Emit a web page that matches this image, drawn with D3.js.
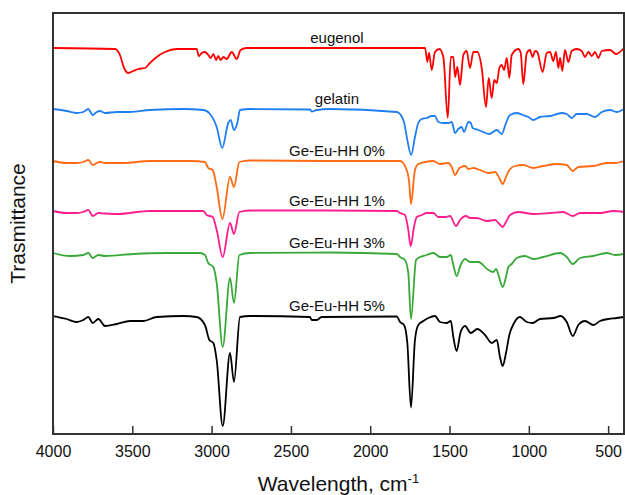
<!DOCTYPE html>
<html>
<head>
<meta charset="utf-8">
<script src="https://cdn.jsdelivr.net/npm/d3@7"></script>
<style>
  body { margin: 0; background: #fff; }
  svg { display: block; font-family: "Liberation Sans", Arial, sans-serif; }
</style>
</head>
<body>
<svg id="chart" width="625" height="495"></svg>
<script>
// wavenumber (cm-1) vs. transmittance, arbitrary offset units
const eugenol = [[4000,38.6],[3609,38.5],[3578,37.9],[3552,36.6],[3525,36.1],[3494,36.3],[3462,36.5],[3420,36.6],[3389,37.1],[3346,37.7],[3294,38.2],[3220,38.5],[3136,38.5],[3094,38.5],[3081,37.8],[3062,38.1],[3042,38.2],[3021,37.9],[3006,37.6],[2989,38.0],[2972,37.4],[2958,37.8],[2943,37.4],[2926,37.7],[2905,37.5],[2873,38.2],[2842,37.5],[2817,38.4],[2779,38.6],[1812,38.6],[1654,38.6],[1640,37.2],[1629,38.1],[1612,36.4],[1592,38.2],[1564,38.5],[1539,37.7],[1511,31.6],[1492,37.7],[1476,37.7],[1465,35.7],[1451,36.7],[1434,34.9],[1413,37.9],[1392,38.3],[1371,36.6],[1350,38.2],[1325,38.2],[1297,36.6],[1270,32.7],[1253,35.6],[1234,33.6],[1218,35.4],[1202,35.1],[1186,36.6],[1171,36.9],[1156,36.4],[1139,37.6],[1123,35.6],[1108,37.9],[1066,38.5],[1051,38.1],[1035,35.0],[1013,38.1],[993,38.4],[976,37.7],[961,38.3],[947,38.2],[913,36.2],[887,38.1],[866,38.2],[846,37.3],[829,38.2],[814,36.6],[803,37.6],[789,36.3],[772,38.4],[751,37.2],[730,38.3],[698,38.5],[667,38.3],[646,37.7],[625,38.2],[603,37.8],[583,38.2],[562,37.6],[540,38.3],[488,38.4],[450,38.0],[400,38.6]]

const gelatin = [[4000,32.5],[3914,32.3],[3851,32.1],[3809,32.2],[3777,32.5],[3750,31.9],[3724,32.2],[3704,32.3],[3672,32.1],[3598,32.2],[3515,32.2],[3388,32.4],[3178,32.5],[3052,32.4],[3010,32.0],[2968,30.7],[2933,28.6],[2895,31.1],[2880,31.4],[2859,30.4],[2838,31.1],[2821,32.4],[2758,32.5],[2380,32.45],[2369,32.25],[2337,32.4],[2254,32.5],[1833,32.2],[1812,32.0],[1787,31.2],[1766,29.4],[1742,27.9],[1718,29.7],[1697,31.1],[1675,31.5],[1644,31.6],[1612,31.8],[1592,31.8],[1571,31.2],[1539,31.1],[1508,31.1],[1486,31.2],[1465,30.1],[1445,30.5],[1423,30.7],[1409,30.2],[1381,31.2],[1366,31.1],[1354,30.6],[1318,30.4],[1287,30.2],[1249,30.0],[1202,30.4],[1171,30.0],[1144,31.1],[1119,31.9],[1076,32.1],[1039,31.9],[1003,31.7],[972,31.4],[930,31.7],[866,31.8],[793,32.1],[761,32.0],[730,31.6],[698,32.0],[635,32.0],[583,31.7],[540,32.2],[488,32.4],[446,32.2],[400,32.5]]

const geEu0 = [[4000,27.3],[3914,27.1],[3851,27.1],[3809,27.2],[3777,27.4],[3750,26.9],[3724,27.1],[3704,27.2],[3672,27.1],[3557,27.1],[3388,27.3],[3136,27.3],[3042,27.2],[3021,26.6],[2993,26.4],[2968,24.7],[2932,21.5],[2884,25.7],[2859,24.7],[2825,27.2],[2758,27.35],[2254,27.3],[1833,27.3],[1812,27.3],[1770,26.4],[1754,25.1],[1743,23.0],[1718,26.4],[1697,27.0],[1654,27.2],[1602,27.3],[1560,27.0],[1508,27.1],[1486,26.7],[1465,25.9],[1438,26.6],[1402,26.8],[1381,26.5],[1350,26.6],[1308,26.4],[1255,26.1],[1213,26.2],[1186,25.6],[1165,25.0],[1144,25.7],[1123,26.4],[1087,26.8],[1035,26.9],[972,26.6],[909,26.8],[824,27.0],[761,26.9],[723,26.3],[688,26.7],[593,26.8],[509,27.1],[457,27.1],[400,27.3]]

const geEu1 = [[4000,22.3],[3914,22.1],[3851,22.1],[3809,22.2],[3777,22.4],[3750,21.8],[3714,22.1],[3672,22.05],[3598,22.0],[3388,22.3],[3052,22.3],[3031,21.9],[2993,21.7],[2968,20.4],[2930,17.7],[2884,21.1],[2859,20.0],[2825,22.2],[2758,22.35],[2254,22.35],[1833,22.3],[1812,22.1],[1781,21.9],[1760,20.4],[1745,18.8],[1724,20.7],[1707,21.7],[1675,21.9],[1644,22.1],[1602,22.1],[1571,21.7],[1528,21.7],[1497,21.8],[1459,20.8],[1434,21.4],[1396,21.8],[1371,21.6],[1329,21.6],[1266,21.3],[1213,21.4],[1192,21.1],[1165,20.7],[1144,21.2],[1119,21.9],[1066,22.2],[972,22.0],[866,22.1],[783,22.2],[723,21.8],[677,22.1],[551,22.1],[467,22.3],[400,22.2]]

const geEu3 = [[4000,18.1],[3893,17.8],[3809,17.9],[3777,18.1],[3750,17.6],[3714,17.9],[3672,17.8],[3494,18.0],[3283,18.1],[3073,18.1],[3042,17.9],[3021,17.1],[2989,16.7],[2968,15.1],[2930,8.7],[2884,15.6],[2859,13.1],[2825,17.9],[2758,18.1],[2254,18.15],[1833,18.0],[1812,17.7],[1781,17.4],[1760,16.1],[1743,11.5],[1711,17.4],[1686,17.7],[1644,17.9],[1602,18.1],[1560,17.7],[1518,17.7],[1492,17.9],[1476,16.9],[1455,15.8],[1430,16.9],[1402,17.5],[1371,17.2],[1318,17.2],[1255,16.4],[1224,16.2],[1207,16.5],[1186,15.6],[1165,14.7],[1144,15.7],[1129,16.7],[1108,17.0],[1076,17.6],[1024,17.8],[972,17.5],[909,17.7],[803,18.1],[761,17.7],[723,17.0],[677,17.6],[593,17.8],[509,18.1],[457,17.9],[400,18.0]]

const geEu5 = [[4000,11.8],[3914,11.5],[3851,11.2],[3809,11.4],[3777,11.7],[3750,11.1],[3714,11.5],[3672,10.8],[3598,11.0],[3515,11.3],[3431,11.3],[3346,11.7],[3178,11.8],[3094,11.7],[3042,10.9],[3014,9.4],[2989,9.1],[2968,7.4],[2930,0.8],[2884,8.1],[2859,5.2],[2821,11.7],[2758,11.8],[2380,11.7],[2369,11.4],[2337,11.4],[2306,11.7],[1833,11.75],[1812,11.2],[1787,10.9],[1766,9.1],[1743,2.65],[1718,9.4],[1697,10.9],[1665,11.3],[1634,11.6],[1592,11.8],[1560,11.2],[1518,11.1],[1492,11.3],[1476,9.7],[1455,8.3],[1430,10.2],[1402,10.8],[1366,10.1],[1325,10.5],[1276,9.9],[1234,9.1],[1202,9.4],[1182,7.7],[1165,6.8],[1144,8.1],[1123,9.9],[1093,11.1],[1056,11.7],[1013,11.2],[976,11.1],[930,11.5],[846,11.6],[799,11.8],[761,11.2],[723,9.8],[688,10.9],[646,11.3],[593,10.9],[551,11.3],[499,11.5],[446,11.6],[400,11.7]]

const seriesNames = ['eugenol', 'gelatin', 'Ge-Eu-HH 0%', 'Ge-Eu-HH 1%', 'Ge-Eu-HH 3%', 'Ge-Eu-HH 5%']
const seriesData = [eugenol, gelatin, geEu0, geEu1, geEu3, geEu5]
const colors = ['#ff0000', '#1f7ff0', '#ff6a13', '#ff1d8e', '#38a838', '#000000']
const xTicks = [4000, 3500, 3000, 2500, 2000, 1500, 1000, 500]
const labelWavenumber = 2210

const svg = d3.select('#chart')
const plot = { left: 53, right: 624, top: 13, bottom: 434 }

const x = d3.scaleLinear().domain([4000, 400]).range([plot.left, plot.right])
const y = d3.scaleLinear().domain([0, 42.1]).range([plot.bottom, plot.top])

const line = d3.line()
    .x(d => x(d[0]))
    .y(d => y(d[1]))
    .curve(d3.curveMonotoneX)

// spectra
svg.append('g')
    .selectAll('path')
    .data(seriesData)
    .join('path')
    .attr('d', line)
    .attr('fill', 'none')
    .attr('stroke', (d, i) => colors[i])
    .attr('stroke-width', 1.8)
    .attr('stroke-linejoin', 'round')

// trace labels, sitting just above each baseline
svg.append('g')
    .selectAll('text')
    .data(seriesNames)
    .join('text')
    .attr('x', x(labelWavenumber))
    .attr('y', (d, i) => y(seriesData[i][0][1]) - 5)
    .attr('text-anchor', 'middle')
    .attr('font-size', 15)
    .attr('fill', '#111')
    .text(d => d)

// bottom axis, ticks pointing inward
const xAxis = svg.append('g')
    .attr('transform', `translate(0, ${plot.bottom})`)
    .call(d3.axisBottom(x)
        .tickValues(xTicks)
        .tickFormat(d3.format('d'))
        .tickSizeInner(-8)
        .tickSizeOuter(0)
        .tickPadding(12))

xAxis.select('.domain').remove()
xAxis.selectAll('line').attr('stroke', '#333').attr('stroke-width', 1.5)
xAxis.selectAll('text')
    .attr('font-size', 16)
    .attr('font-family', '"Liberation Sans", Arial, sans-serif')
    .attr('fill', '#111')

// frame
svg.append('rect')
    .attr('x', plot.left)
    .attr('y', plot.top)
    .attr('width', plot.right - plot.left)
    .attr('height', plot.bottom - plot.top)
    .attr('fill', 'none')
    .attr('stroke', '#333')
    .attr('stroke-width', 2)

// axis titles
const xTitle = svg.append('text')
    .attr('x', (plot.left + plot.right) / 2)
    .attr('y', 491)
    .attr('text-anchor', 'middle')
    .attr('font-size', 21)
    .attr('fill', '#111')
xTitle.append('tspan').text('Wavelength, cm')
xTitle.append('tspan').attr('dy', -8).attr('font-size', 13).text('-1')

svg.append('text')
    .attr('transform', `translate(25, ${(plot.top + plot.bottom) / 2}) rotate(-90)`)
    .attr('text-anchor', 'middle')
    .attr('font-size', 21)
    .attr('fill', '#111')
    .text('Trasmittance')
</script>
</body>
</html>
